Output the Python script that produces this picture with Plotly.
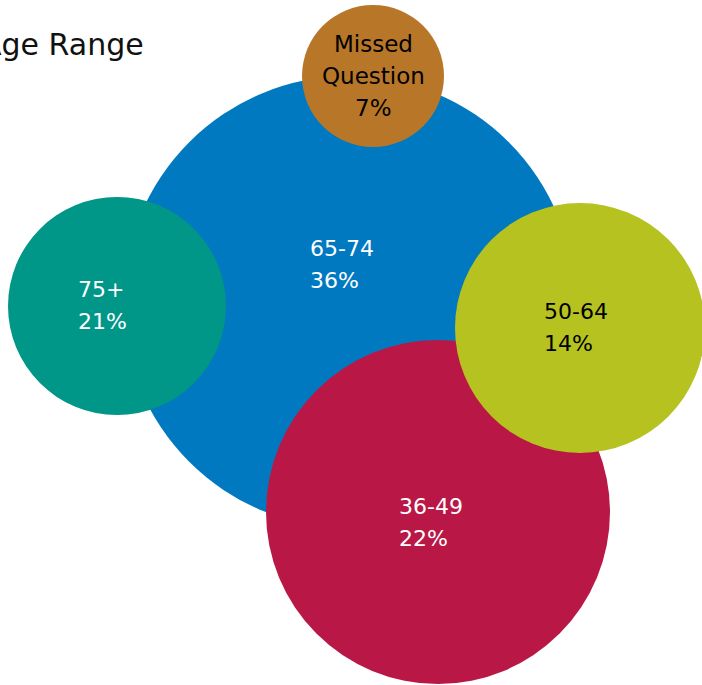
import plotly.graph_objects as go

# ---- data ----
categories = ["65-74", "75+", "Missed<br>Question", "36-49", "50-64"]
percentages = [36, 21, 7, 22, 14]
title_text = "Age Range"

# ---- layout of bubbles (pixel space) ----
bubble_x = [349, 117, 373, 438, 580]
bubble_y = [302, 306, 76, 512, 328]
bubble_d = [452, 218, 142, 344, 250]
colors = ["#0079C1", "#009688", "#B87728", "#B91846", "#B5C21F"]
text_colors = ["white", "white", "black", "white", "black"]
label_x = [308, 76, 373, 397, 542]       # left edge of label block (center for centered)
label_y = [264, 305, 76, 522, 327]       # vertical center of label block
label_align = ["left", "left", "center", "left", "left"]
label_size = [22, 22, 23, 22, 22]

W, H = 702, 685
FONT = "DejaVu Sans"
PITCH = 32

fig = go.Figure()
for i in range(len(categories)):
    fig.add_trace(go.Scatter(
        x=[bubble_x[i]], y=[bubble_y[i]], mode="markers",
        marker=dict(size=bubble_d[i], color=colors[i], line=dict(width=0), opacity=1),
        hoverinfo="skip", showlegend=False, cliponaxis=False,
    ))

annotations = []
for i, cat in enumerate(categories):
    lines = cat.split("<br>") + [f"{percentages[i]}%"]
    n = len(lines)
    for j, ln in enumerate(lines):
        off = (j - (n - 1) / 2) * PITCH
        annotations.append(dict(
            x=label_x[i], y=label_y[i] + off, xref="x", yref="y",
            text=ln, showarrow=False,
            xanchor="left" if label_align[i] == "left" else "center",
            yanchor="middle", align=label_align[i],
            font=dict(family=FONT, size=label_size[i], color=text_colors[i]),
        ))

annotations.append(dict(
    x=146, y=44, xref="x", yref="y", text=title_text, showarrow=False,
    xanchor="right", yanchor="middle",
    font=dict(family=FONT, size=30, color="#111111"),
))

fig.update_layout(
    width=W, height=H,
    margin=dict(l=0, r=0, t=0, b=0),
    paper_bgcolor="white", plot_bgcolor="white",
    xaxis=dict(range=[0, W], visible=False, fixedrange=True),
    yaxis=dict(range=[H, 0], visible=False, fixedrange=True),
    annotations=annotations,
    showlegend=False,
)

fig.write_html("out.html")
